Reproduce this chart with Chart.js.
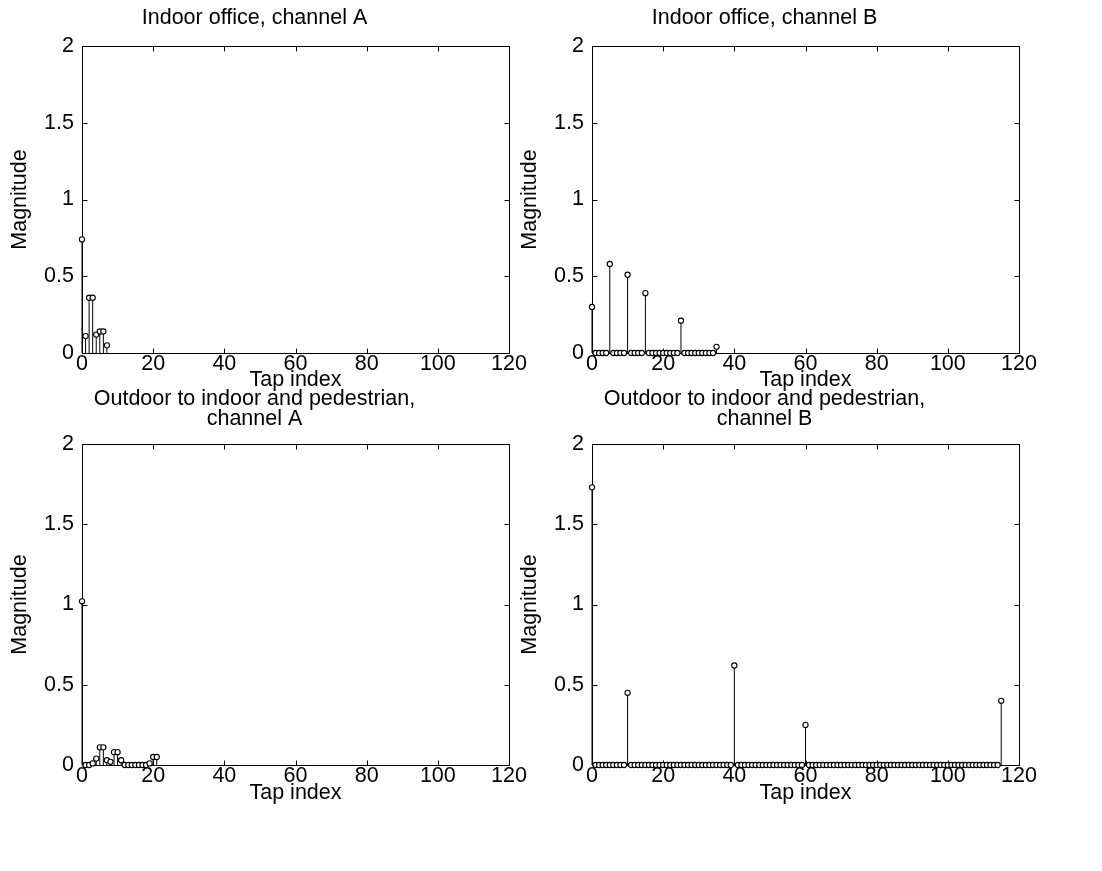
<!DOCTYPE html>
<html><head><meta charset="utf-8">
<script src="https://cdn.jsdelivr.net/npm/chart.js@4.4.0/dist/chart.umd.min.js"></script>
<style>
html,body{margin:0;padding:0;background:#fff;width:1102px;height:871px;overflow:hidden;position:relative}
canvas{position:absolute}
</style></head><body>
<canvas id="c1" width="551" height="392" style="left:0;top:0"></canvas>
<canvas id="c2" width="551" height="392" style="left:510px;top:0"></canvas>
<canvas id="c3" width="551" height="420" style="left:0;top:385px"></canvas>
<canvas id="c4" width="551" height="420" style="left:510px;top:385px"></canvas>
<script>
// ---- tick labels ----
const xTicks = [0, 20, 40, 60, 80, 100, 120];
const yTicks = [0, 0.5, 1, 1.5, 2];
const yTickLabels = ['0', '0.5', '1', '1.5', '2'];

// ---- Indoor office, channel A ----
const officeA_tap = [0, 1, 2, 3, 4, 5, 6, 7];
const officeA_mag = [0.74, 0.11, 0.36, 0.36, 0.12, 0.14, 0.14, 0.05];

// ---- Indoor office, channel B ----
const officeB_tap = [0,1,2,3,4,5,6,7,8,9,10,11,12,13,14,15,16,17,18,19,20,21,22,23,24,25,26,27,28,29,30,31,32,33,34,35];
const officeB_mag = [0.30,0,0,0,0,0.58,0,0,0,0,0.51,0,0,0,0,0.39,0,0,0,0,0,0,0,0,0,0.21,0,0,0,0,0,0,0,0,0,0.04];

// ---- Outdoor to indoor and pedestrian, channel A ----
const outdoorA_tap = [0,1,2,3,4,5,6,7,8,9,10,11,12,13,14,15,16,17,18,19,20,21];
const outdoorA_mag = [1.02,0,0,0.01,0.04,0.11,0.11,0.03,0.02,0.08,0.08,0.03,0,0,0,0,0,0,0,0.01,0.05,0.05];

// ---- Outdoor to indoor and pedestrian, channel B ----
const outdoorB_tap = [
  0,1,2,3,4,5,6,7,8,9,
  10,11,12,13,14,15,16,17,18,19,
  20,21,22,23,24,25,26,27,28,29,
  30,31,32,33,34,35,36,37,38,39,
  40,41,42,43,44,45,46,47,48,49,
  50,51,52,53,54,55,56,57,58,59,
  60,61,62,63,64,65,66,67,68,69,
  70,71,72,73,74,75,76,77,78,79,
  80,81,82,83,84,85,86,87,88,89,
  90,91,92,93,94,95,96,97,98,99,
  100,101,102,103,104,105,106,107,108,109,
  110,111,112,113,114,115];
const outdoorB_mag = [
  1.73,0,0,0,0,0,0,0,0,0,
  0.45,0,0,0,0,0,0,0,0,0,
  0,0,0,0,0,0,0,0,0,0,
  0,0,0,0,0,0,0,0,0,0,
  0.62,0,0,0,0,0,0,0,0,0,
  0,0,0,0,0,0,0,0,0,0,
  0.25,0,0,0,0,0,0,0,0,0,
  0,0,0,0,0,0,0,0,0,0,
  0,0,0,0,0,0,0,0,0,0,
  0,0,0,0,0,0,0,0,0,0,
  0,0,0,0,0,0,0,0,0,0,
  0,0,0,0,0,0.40];

const FONT = "'Liberation Sans', Arial, Helvetica, sans-serif";
const FS = 21.5;

const boxPlugin = {
  id: 'box',
  beforeDatasetsDraw(chart) {
    const {ctx, chartArea: a, scales: {x, y}} = chart;
    const L = Math.round(a.left) + 0.5, R = Math.round(a.right) + 0.5;
    const T = Math.round(a.top) + 0.5, B = Math.round(a.bottom) + 0.5;
    ctx.save();
    ctx.strokeStyle = '#000';
    ctx.lineWidth = 1;
    ctx.beginPath();
    ctx.rect(L, T, R - L, B - T);
    xTicks.forEach(v => {
      const p = Math.round(x.getPixelForValue(v)) + 0.5;
      ctx.moveTo(p, B); ctx.lineTo(p, B - 5);
      ctx.moveTo(p, T); ctx.lineTo(p, T + 5);
    });
    yTicks.forEach(v => {
      const p = Math.round(y.getPixelForValue(v)) + 0.5;
      ctx.moveTo(L, p); ctx.lineTo(L + 5, p);
      ctx.moveTo(R, p); ctx.lineTo(R - 5, p);
    });
    ctx.stroke();
    ctx.restore();
  }
};

function makeChart(id, title, taps, mags, twoLine, xAxisHeight) {
  const stems = [];
  const pts = [];
  taps.forEach((t, i) => {
    stems.push({x: t, y: 0}, {x: t, y: mags[i]}, {x: t, y: null});
    pts.push({x: t, y: mags[i]});
  });
  const titleCfg = twoLine
    ? {display: true, text: title, color: '#000', font: {family: FONT, size: FS, weight: 'normal', lineHeight: '20px'}, padding: {top: 4, bottom: 15}}
    : {display: true, text: title, color: '#000', font: {family: FONT, size: FS, weight: 'normal', lineHeight: '24px'}, padding: {top: 6, bottom: 16}};
  return new Chart(document.getElementById(id), {
    type: 'scatter',
    data: {
      datasets: [
        {type: 'line', data: stems, borderColor: '#000', borderWidth: 1, pointRadius: 0, tension: 0, spanGaps: false, clip: false, order: 2},
        {type: 'scatter', data: pts, pointRadius: 2.6, pointBorderWidth: 1.1, borderColor: '#000', backgroundColor: '#fff', pointStyle: 'circle', clip: false, order: 1}
      ]
    },
    options: {
      responsive: false,
      animation: false,
      layout: {padding: {left: 0, right: 42, top: 0, bottom: 0}},
      plugins: {legend: {display: false}, tooltip: {enabled: false}, title: titleCfg},
      scales: {
        x: {
          type: 'linear', min: 0, max: 120, offset: false,
          afterBuildTicks: s => { s.ticks = xTicks.map(v => ({value: v})); },
          afterFit: s => { s.height = xAxisHeight; },
          grid: {display: false, drawTicks: false},
          border: {display: false},
          ticks: {color: '#000', padding: 0, maxRotation: 0, font: {family: FONT, size: FS, lineHeight: '22px'}, callback: v => String(v)},
          title: {display: true, text: 'Tap index', color: '#000', padding: {top: 0, bottom: 0}, font: {family: FONT, size: FS, lineHeight: '24px'}}
        },
        y: {
          type: 'linear', min: 0, max: 2,
          afterBuildTicks: s => { s.ticks = yTicks.map(v => ({value: v})); },
          afterFit: s => { s.width = 82; },
          grid: {display: false, drawTicks: false},
          border: {display: false},
          ticks: {color: '#000', padding: 8, font: {family: FONT, size: FS}, callback: v => yTickLabels[yTicks.indexOf(v)]},
          title: {display: true, text: 'Magnitude', color: '#000', padding: {top: 8, bottom: 0}, font: {family: FONT, size: FS, lineHeight: '24px'}}
        }
      }
    },
    plugins: [boxPlugin]
  });
}

makeChart('c1', 'Indoor office, channel A', officeA_tap, officeA_mag, false, 39);
makeChart('c2', 'Indoor office, channel B', officeB_tap, officeB_mag, false, 39);
makeChart('c3', ['Outdoor to indoor and pedestrian,', 'channel A'], outdoorA_tap, outdoorA_mag, true, 40);
makeChart('c4', ['Outdoor to indoor and pedestrian,', 'channel B'], outdoorB_tap, outdoorB_mag, true, 40);
</script>
</body></html>
